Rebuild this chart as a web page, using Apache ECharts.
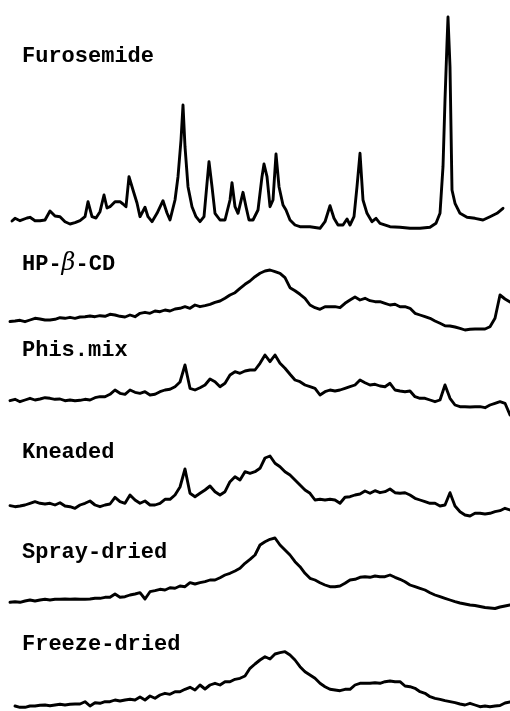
<!DOCTYPE html>
<html>
<head>
<meta charset="utf-8">
<script src="https://cdn.jsdelivr.net/npm/echarts@6/dist/echarts.min.js"></script>
<style>html,body{margin:0;padding:0;background:#fff;}#chart{width:510px;height:711px;}</style>
</head>
<body>
<div id="chart"></div>
<script>
// Sample labels (top to bottom)
const sampleNames = ['Furosemide', 'HP-β-CD', 'Phis.mix', 'Kneaded', 'Spray-dried', 'Freeze-dried'];

// Furosemide pattern: [2θ (deg), intensity (a.u.)]
const furosemide = [
  [5.14,9],[5.35,11.7],[5.70,9.3],[6.19,12],[6.40,12.7],[6.75,9.3],[7.10,9.3],[7.45,10],[7.80,19],[8.15,14],
  [8.50,13.3],[8.85,8.3],[9.20,6],[9.55,7.3],[9.90,9.3],[10.25,13.3],[10.46,28.3],[10.74,13.3],[11.02,12],[11.30,18.3],
  [11.58,35],[11.79,22],[12.00,23.3],[12.35,28.3],[12.70,28.3],[12.91,26],[13.12,23.3],[13.33,53.3],[13.61,40],[13.89,27],
  [14.10,13.3],[14.45,22.7],[14.66,13.3],[14.94,8.3],[15.29,16.7],[15.71,29.3],[15.99,17],[16.20,10],[16.55,30],[16.76,53.3],
  [16.97,90],[17.11,125],[17.25,83.3],[17.46,43.3],[17.74,23.3],[18.02,13.3],[18.30,8.3],[18.58,13.3],[18.79,46.7],[18.93,68.3],
  [19.14,43.3],[19.35,16.7],[19.70,10],[20.05,10],[20.40,30],[20.54,47.3],[20.75,23.3],[20.96,16.7],[21.31,37.7],[21.52,23.3],
  [21.73,10],[22.01,10],[22.36,20],[22.64,53.3],[22.78,66],[22.99,53.3],[23.20,23.3],[23.41,30],[23.62,76],[23.83,43.3],
  [24.11,25],[24.32,20],[24.60,10],[24.95,5],[25.30,3.3],[26.00,3.3],[26.70,1.7],[27.05,8.3],[27.40,24.3],[27.68,11.7],
  [27.96,5],[28.31,5],[28.59,11],[28.80,5],[29.08,13.3],[29.29,43.3],[29.50,76.7],[29.71,30],[29.99,16.7],[30.34,8.3],
  [30.62,11.7],[30.90,6.7],[31.60,3.3],[32.30,2.7],[33.00,1.7],[33.70,1.7],[34.40,2.7],[34.82,6.7],[35.10,16.7],[35.31,63.3],
  [35.45,130],[35.59,187],[35.66,213],[35.80,163.3],[35.94,40],[36.15,26.7],[36.50,16.7],[36.99,12.7],[37.55,11.7],[38.11,10],
  [38.60,13.3],[39.09,16.7],[39.51,21.7]
];

// Common 2θ scan grid (deg) for the other patterns
const twoTheta = [5,5.35,5.7,6.05,6.4,6.75,7.1,7.45,7.8,8.15,8.5,8.85,9.2,9.55,9.9,10.25,10.6,10.95,11.3,11.65,
  12,12.35,12.7,13.05,13.4,13.75,14.1,14.45,14.8,15.15,15.5,15.85,16.2,16.55,16.9,17.25,17.6,17.95,18.3,18.65,
  19,19.35,19.7,20.05,20.4,20.75,21.1,21.45,21.8,22.15,22.5,22.85,23.2,23.55,23.9,24.25,24.6,24.95,25.3,25.65,
  26,26.35,26.7,27.05,27.4,27.75,28.1,28.45,28.8,29.15,29.5,29.85,30.2,30.55,30.9,31.25,31.6,31.95,32.3,32.65,
  33,33.35,33.7,34.05,34.4,34.75,35.1,35.45,35.8,36.15,36.5,36.85,37.2,37.55,37.9,38.25,38.6,38.95,39.3,39.65,40];

const hpbcd = [13.5,14,14.7,13.3,15,16.7,16,15,15,15.7,
  17.3,16.7,17.7,16.7,18,18.3,19,18.3,19.3,18.7,
  20.7,20,18.7,18,20,18.3,21.7,22.7,21.7,24,
  23.3,25,24,26,26.7,28.3,26.7,30,28.3,29.3,
  30.7,32.7,34,36.7,40,42.3,46.7,50.7,54,58.3,
  61.7,64,65,63.3,61.7,57.3,47.3,44.3,40.7,36.7,
  30,27.3,25.7,28.3,28.3,28.3,27.3,31.7,35,38,
  35,36.7,34.3,33.3,33.3,31.7,30,30.7,28.3,28.3,
  26.7,21.7,20,18.3,16.7,14,11.7,9.3,9,8,
  6.7,5,5.7,6,6,6,8.3,16.7,40,36,33];

const physMix = [19.3,20.7,18.3,20,21.7,20,21,22.3,21.7,20.7,
  21,19.3,20,19.3,19.7,20.7,20,22.3,23.3,23.3,
  25.7,30,26.7,25.7,30,27.7,26.7,28.3,25,25.7,
  28.3,30,30.7,33.3,38,55,31.7,30,32.3,35,
  41,38.3,33.3,36.7,45,48.3,46.7,49,50,50,
  56.7,65,58.3,65,56.7,51.7,45.7,40,38.3,35,
  33.3,31.7,25,28.3,30,29,30,31.7,33.3,35,
  40,37.3,35,35.7,34,33.3,36.7,30,29,28.3,
  29,23.3,21.7,21.7,20,18.3,20,35,21.7,15,
  13.3,13.3,13,13.3,13.3,12.3,15,16.7,18.3,16.7,5];

const kneaded = [19.3,18.3,19,20,21.7,23.3,21.7,21,21.7,20,
  22.3,19,18.3,16.7,20,21.7,24,20,18.3,20,
  21,27.7,23.3,21.7,30,25,21.7,24,20,20,
  21.7,25.7,25.7,30,38,56,31.7,28.3,31.7,35,
  39,33.3,30,33.3,43.3,48.3,45,53.3,51.7,53.3,
  56.7,67,69,61.7,58.3,53.3,50,45,40,35,
  31.7,25,25.7,25,25.7,25,21.7,27.7,28.3,30,
  31,34,31.7,34.3,32.3,33.3,36,32.3,31.7,32.3,
  30,26.7,25,23.3,21.7,21.7,19,20,32.3,19,
  13.3,10,9,11.7,11.7,11,11.7,13.3,14.3,16.7,15];

const sprayDried = [12.7,13.3,12.7,14,15,14,15,15.7,15,15.7,
  15.7,16,15.7,16,15.7,15.7,16,16.7,16.7,17.7,
  17.7,21,17.7,18.3,20,21,22.3,16,23.3,24.3,
  25.7,25,27.3,26.7,29,28.3,32.3,31,32.3,33.3,
  35,35,37.3,40,41.7,44,46.7,51.7,55.7,60,
  70,73.3,75.7,77,70,65,60,53.3,48.3,41.7,
  36.7,35,32.3,30,28.3,28.3,29,31.7,35,35.7,
  37.7,38.3,37.7,39,38.3,38.3,40,37.7,35.7,33.3,
  30,28.3,26.7,25,22.3,20,18.3,16.7,15,13.3,
  12,11,10,9.5,8.5,7.5,7,6.5,8,9,10];

const freezeDried = [null,5,3.7,3.7,5,5,5.7,6,5.3,6,
  6.7,6,6.7,7,7,9.3,5,8.3,7.7,9.3,
  9.3,11,10,11,11.7,11,14,11,15,12.7,
  16,17.7,16.7,19.3,19.3,21.7,23.7,21,26,22,
  26,27.7,26,29.3,29.3,31.7,32.7,35,42.7,47,
  51,54.3,52,57,58.3,59.3,56,51,44.3,39.3,
  36,32.7,27.7,24.3,21.7,21,20.3,21.7,21.7,26,
  27.7,27.7,27.7,28.3,27.7,29.3,30,29.3,29.3,25,
  24.3,22.7,19.3,17.7,14.3,12.7,11.7,10.3,9.3,8.3,
  7,6,7.7,6,4.3,5,4.3,5,5.5,8,9];

function pairs(ys) {
  return twoTheta.map((t, i) => [t, ys[i]]).filter(p => p[1] != null);
}

const seriesData = [furosemide, pairs(hpbcd), pairs(physMix), pairs(kneaded), pairs(sprayDried), pairs(freezeDried)];

// Panel layout (pixel baseline and panel height) and label centres
const panelBase = [230, 335, 420, 525, 615, 711];
const panelH = [230, 100, 100, 100, 100, 100];
const labelY = [56, 264, 350, 452, 552, 644];

const grids = [], xAxes = [], yAxes = [], series = [], graphics = [];
const monoFont = 'bold 22px "Liberation Mono", "DejaVu Sans Mono", monospace';
for (let i = 0; i < 6; i++) {
  grids.push({ left: 10, width: 500, top: panelBase[i] - panelH[i], height: panelH[i], containLabel: false });
  xAxes.push({ type: 'value', gridIndex: i, min: 5, max: 40, show: false });
  yAxes.push({ type: 'value', gridIndex: i, min: 0, max: panelH[i], show: false });
  series.push({
    type: 'line', xAxisIndex: i, yAxisIndex: i, data: seriesData[i],
    showSymbol: false, clip: false, animation: false, smooth: false,
    lineStyle: { color: '#000', width: 2.9, join: 'round', cap: 'round' }
  });
  const isHP = i === 1;
  graphics.push({
    type: 'text', x: 22, y: labelY[i],
    style: isHP ? {
      text: '{a|HP-}{b|β}{a|-CD}',
      rich: { a: { font: monoFont, fill: '#000' }, b: { font: 'italic 24px "DejaVu Serif", "Liberation Serif", serif', fill: '#000' } },
      verticalAlign: 'middle', align: 'left'
    } : {
      text: sampleNames[i], font: monoFont, fill: '#000', verticalAlign: 'middle', align: 'left'
    }
  });
}

const chart = echarts.init(document.getElementById('chart'), null, { renderer: 'canvas' });
chart.setOption({
  animation: false,
  backgroundColor: '#fff',
  grid: grids, xAxis: xAxes, yAxis: yAxes, series: series,
  graphic: graphics
});
</script>
</body>
</html>
